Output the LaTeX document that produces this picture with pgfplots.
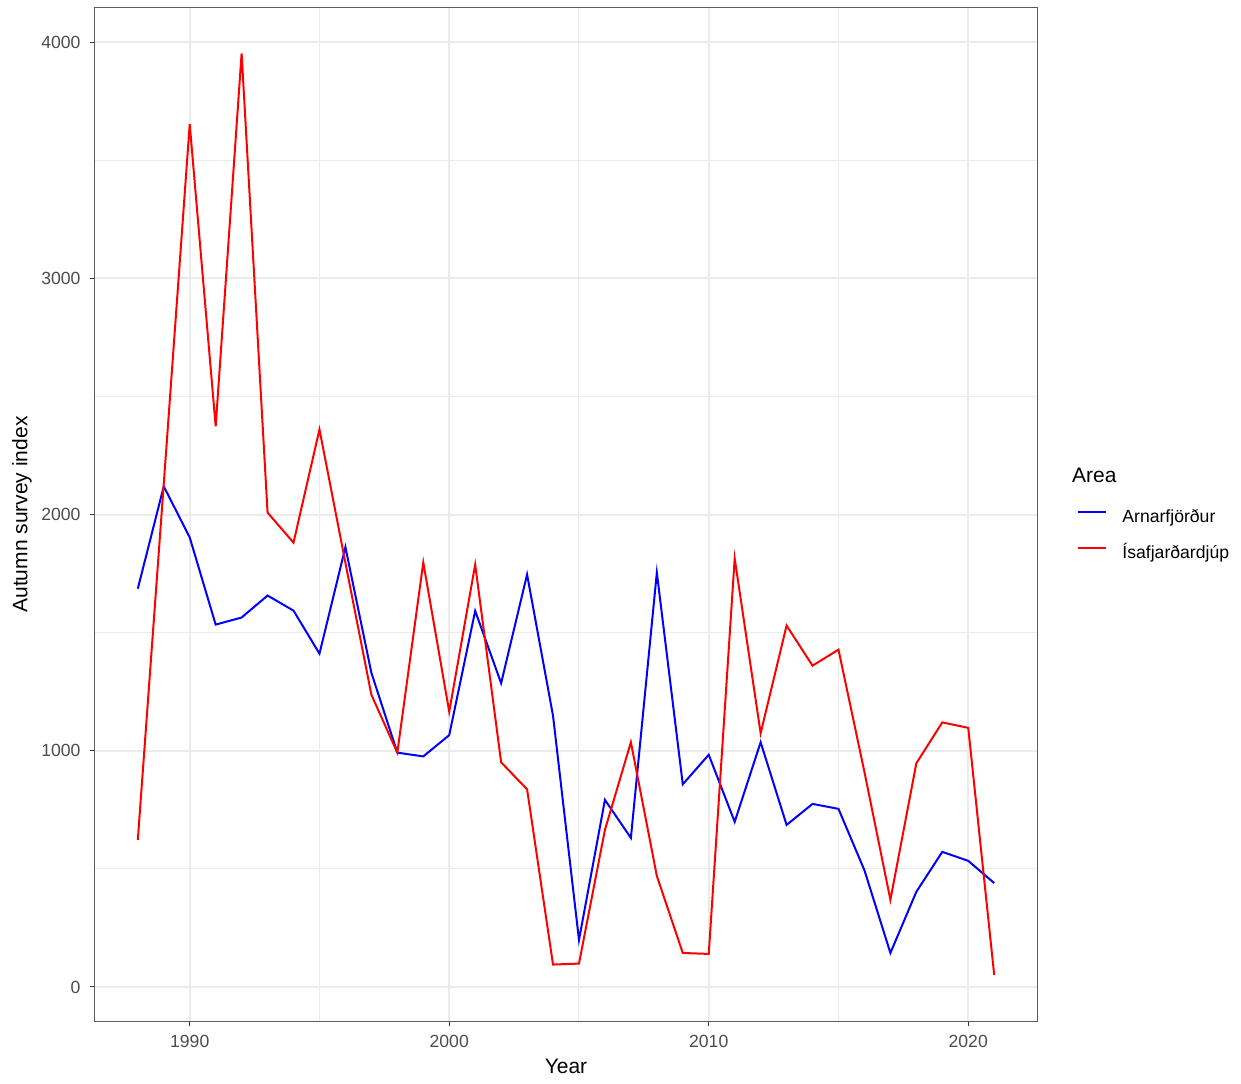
\documentclass[border=0pt]{standalone}
\usepackage{pgfplots}
\pgfplotsset{compat=1.18}
\usepackage{fontspec}
\setmainfont{Liberation Sans}
\definecolor{grid92}{gray}{0.92}
\definecolor{grey30}{gray}{0.30}
\definecolor{grey20}{gray}{0.20}
\pgfplotstableread{
year val
1988 1686
1989 2119
1990 1903
1991 1534
1992 1564
1993 1657
1994 1593
1995 1411
1996 1862
1997 1330
1998 992
1999 976
2000 1066
2001 1592
2002 1286
2003 1746
2004 1148
2005 199
2006 792
2007 631
2008 1754
2009 858
2010 983
2011 699
2012 1036
2013 686
2014 775
2015 754
2016 494
2017 144
2018 403
2019 572
2020 534
2021 440
}\arnar
\pgfplotstableread{
year val
1988 623
1989 2130
1990 3652
1991 2373
1992 3952
1993 2008
1994 1881
1995 2360
1996 1795
1997 1237
1998 992
1999 1797
2000 1165
2001 1788
2002 951
2003 837
2004 95
2005 99
2006 665
2007 1036
2008 470
2009 144
2010 140
2011 1814
2012 1074
2013 1530
2014 1360
2015 1428
2016 910
2017 369
2018 947
2019 1120
2020 1097
2021 51
}\isa
\begin{document}
\begin{tikzpicture}
\useasboundingbox (-47.5pt,-31pt) rectangle (573pt,510.5pt);
\begin{axis}[
  scale only axis,
  width=471pt, height=506.5pt,
  xmin=1986.35, xmax=2022.65,
  ymin=-144, ymax=4144,
  xtick={1990,2000,2010,2020},
  ytick={0,1000,2000,3000,4000},
  minor xtick={1995,2005,2015},
  minor ytick={500,1500,2500,3500},
  grid=both,
  major grid style={grid92, line width=1pt},
  minor grid style={grid92, line width=0.5pt},
  axis line style={grey20!80, line width=0.5pt},
  tick style={grey20, line width=0.5pt},
  major tick length=2.7pt,
  minor tick length=0pt,
  tick align=outside,
  xtick pos=bottom, ytick pos=left,
  /pgf/number format/assume math mode=true,
  /pgf/number format/1000 sep={},
  tick label style={font=\fontsize{8.8pt}{10pt}\selectfont, text=grey30},
  xticklabel style={yshift=-1pt},
  yticklabel style={xshift=-1pt},
  xlabel={Year},
  ylabel={Autumn survey index},
  label style={font=\fontsize{10.5pt}{12pt}\selectfont},
  xlabel style={at={(axis description cs:0.5,0)}, anchor=center, yshift=-22.5pt},
  ylabel style={at={(axis description cs:0,0.5)}, anchor=center, yshift=36.5pt},
  legend style={at={(axis description cs:1.0425,0.4787)}, anchor=west,
    draw=none, fill=none, inner sep=0pt, row sep=9.5pt,
    font=\fontsize{8.8pt}{10pt}\selectfont,
    nodes={inner sep=0pt, anchor=west, text height=6.5pt, text depth=2pt}},
  legend cell align=left,
  legend image code/.code={\draw[#1] (0pt,3.2pt) -- (14pt,3.2pt);},
  clip=true,
]
\addplot[blue, line width=1pt] table[x=year,y=val]{\arnar};
\addlegendentry{\hspace{7.5pt}Arnarfjörður}
\addplot[red, line width=1pt] table[x=year,y=val]{\isa};
\addlegendentry{\hspace{7.5pt}Ísafjarðardjúp}
\end{axis}
\node[anchor=west, font=\fontsize{10.5pt}{12pt}\selectfont] at (485pt,273pt) {Area};
\end{tikzpicture}
\end{document}
